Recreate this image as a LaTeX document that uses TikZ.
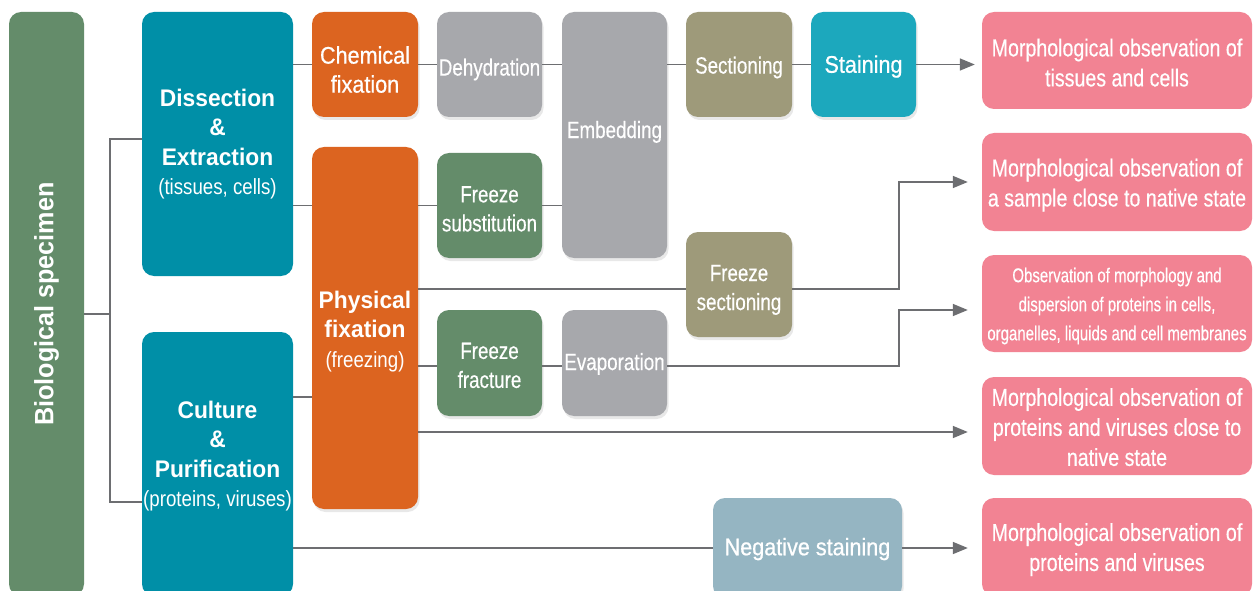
\documentclass[tikz,border=0pt]{standalone}
\usepackage{fontspec}
\setmainfont{Liberation Sans}
\newfontfamily\fR[FakeStretch=0.8,FakeBold=0.4]{Liberation Sans}
\newfontfamily\fM[FakeStretch=0.9,FakeBold=0.7]{Liberation Sans}
\newfontfamily\fP[FakeStretch=0.85]{Liberation Sans}
\newfontfamily\fS[FakeStretch=0.75,FakeBold=0.3]{Liberation Sans}
\newfontfamily\fB[FakeStretch=0.95]{Liberation Sans}
\newcommand\myhs[1]{\rule{0pt}{#1pt}}
\usetikzlibrary{shadows,arrows.meta,calc}
\definecolor{biogreen}{HTML}{648C6A}
\definecolor{tealA}{HTML}{008FA7}
\definecolor{orangeA}{HTML}{DC6420}
\definecolor{grayA}{HTML}{A7A8AC}
\definecolor{khaki}{HTML}{9E9A7A}
\definecolor{tealB}{HTML}{1CA8BD}
\definecolor{negblue}{HTML}{95B5C2}
\definecolor{pinkA}{HTML}{F28393}
\definecolor{linec}{HTML}{6D6E71}
\begin{document}
\begin{tikzpicture}[x=1pt,y=-1pt,
  bx/.style={rounded corners=12pt, inner sep=0pt, align=center, text=white},
  sh/.style={drop shadow={shadow xshift=1.5pt,shadow yshift=-3pt,opacity=0.18}},
  txt/.style={inner sep=0pt, align=center, text=white},
  ln/.style={draw=linec, line width=1.6pt},
  ar/.style={ln, -{Triangle[length=15pt,width=12pt]}, shorten >=14pt},
  bigf/.style={font=\fB\bfseries\fontsize{24}{29.5}\selectfont},
  midf/.style={font=\fM\fontsize{24}{29}\selectfont},
  regf/.style={font=\fR\fontsize{23.5}{29}\selectfont},
  obsf/.style={font=\fR\fontsize{24.5}{30}\selectfont}]
\clip (0,0) rectangle (1258,591);
\fill[white] (0,0) rectangle (1258,591);

% left column
\node[bx, fill=biogreen, minimum width=75pt, minimum height=584pt] (bio) at (46.5,304)
  {\rotatebox{90}{\fB\bfseries\fontsize{26.5}{30}\selectfont Biological specimen}};
\node[bx, fill=tealA, minimum width=151pt, minimum height=264pt, bigf] (diss) at (217.5,144)
  {Dissection\\\&\\Extraction\\{\fP\mdseries\fontsize{22}{29.5}\selectfont (tissues, cells)}};
\node[bx, fill=tealA, minimum width=151pt, minimum height=264pt] (cult) at (217.5,464) {};
\node[txt, bigf] (cultlbl) at (217.5,456)
  {Culture\\\&\\Purification\\{\fP\mdseries\fontsize{22}{29.5}\selectfont (proteins, viruses)}};

% fixation
\node[bx, sh, fill=orangeA, minimum width=106pt, minimum height=105pt, midf] (chem) at (365,64.5) {\myhs{27.5}Chemical\\fixation};
\node[bx, sh, fill=orangeA, minimum width=106pt, minimum height=362pt, bigf] (phys) at (365,328)
  {\myhs{24.5}Physical\\fixation\\{\fP\mdseries\fontsize{22}{29.5}\selectfont (freezing)}};

% middle
\node[bx, sh, fill=grayA, minimum width=105pt, minimum height=105pt, regf] (dehy) at (489.5,64.5) {\myhs{27}Dehydration};
\node[bx, sh, fill=grayA, minimum width=105pt, minimum height=246pt, regf] (emb) at (614.5,135) {Embedding\rule[-11pt]{0pt}{11pt}};
\node[bx, sh, fill=biogreen, minimum width=105pt, minimum height=105pt, regf] (fsub) at (489.5,205.5) {\myhs{23}Freeze\\substitution};
\node[bx, sh, fill=biogreen, minimum width=105pt, minimum height=106pt, regf] (ffrac) at (489.5,363) {\myhs{21}Freeze\\fracture};
\node[bx, sh, fill=grayA, minimum width=105pt, minimum height=106pt, regf] (evap) at (614.5,363) {\myhs{19}Evaporation};
\node[bx, sh, fill=khaki, minimum width=106pt, minimum height=105pt, regf] (sect) at (739,64.5) {\myhs{23}Sectioning};
\node[bx, sh, fill=tealB, minimum width=105pt, minimum height=105pt, midf] (stain) at (863.5,64.5) {\myhs{21.5}Staining};
\node[bx, sh, fill=khaki, minimum width=106pt, minimum height=105pt, regf] (fsec) at (739,284.5) {\myhs{27}Freeze\\sectioning};
\node[bx, sh, fill=negblue, minimum width=189pt, minimum height=100pt, midf] (neg) at (807.5,548) {\myhs{19.5}Negative staining};

% results
\node[bx, fill=pinkA, minimum width=270pt, minimum height=97pt, obsf] (p1) at (1117,60.5)
  {\myhs{22}Morphological observation of\\tissues and cells};
\node[bx, fill=pinkA, minimum width=270pt, minimum height=98pt, obsf] (p2) at (1117,182)
  {\myhs{24}Morphological observation of\\a sample close to native state};
\node[bx, fill=pinkA, minimum width=270pt, minimum height=97pt, font=\fS\fontsize{20}{29}\selectfont] (p3) at (1117,303.5)
  {\myhs{19.6}Observation of morphology and\\dispersion of proteins in cells,\\organelles, liquids and cell membranes};
\node[bx, fill=pinkA, minimum width=270pt, minimum height=98pt, obsf] (p4) at (1117,426)
  {\myhs{20}Morphological observation of\\proteins and viruses close to\\native state};
\node[bx, fill=pinkA, minimum width=270pt, minimum height=98pt, obsf] (p5) at (1117,547)
  {\myhs{23}Morphological observation of\\proteins and viruses};

% bracket
\coordinate (bt) at (110,139);
\coordinate (bm) at (110,314);
\coordinate (bb) at (110,502);
\draw[ln] (diss.west |- bt) -- (bt) -- (bb) -- (cult.west |- bb);
\draw[ln] (bio.east |- bm) -- (bm);

% top row
\draw[ln] (diss.east |- chem.west) -- (chem.west);
\draw[ln] (chem.east) -- (dehy.west);
\draw[ln] (dehy.east) -- (emb.west |- dehy.east);
\draw[ln] (emb.east |- sect.west) -- (sect.west);
\draw[ln] (sect.east) -- (stain.west);
\draw[ar, shorten >=7pt] (stain.east) -- (stain.east -| p1.west);

% freeze substitution row
\draw[ln] (diss.east |- fsub.west) -- (phys.west |- fsub.west);
\draw[ln] (phys.east |- fsub.west) -- (fsub.west);
\draw[ln] (fsub.east) -- (emb.west |- fsub.east);

% freeze sectioning
\coordinate (t1) at (899,0);
\coordinate (fl) at ([yshift=-4.5pt]fsec.west);
\coordinate (fr) at ([yshift=-4.5pt]fsec.east);
\draw[ln] (phys.east |- fl) -- (fl);
\draw[ar] (fr) -- (fr -| t1) -- (t1 |- p2.west) -- (p2.west);

% freeze fracture
\coordinate (gl) at ([yshift=-3pt]ffrac.west);
\coordinate (gr) at ([yshift=-3pt]ffrac.east);
\coordinate (el) at ([yshift=-3pt]evap.west);
\coordinate (er) at ([yshift=-3pt]evap.east);
\coordinate (q3) at ([yshift=-6.5pt]p3.west);
\draw[ln] (phys.east |- gl) -- (gl);
\draw[ln] (gr) -- (el);
\draw[ar] (er) -- (er -| t1) -- (t1 |- q3) -- (q3);

% direct to p4
\coordinate (q4) at ([yshift=-6pt]p4.west);
\draw[ar] (phys.east |- q4) -- (q4);

% culture
\coordinate (cy) at (300,397);
\draw[ln] (cult.east |- cy) -- (phys.west |- cy);
\draw[ln] (cult.east |- neg.west) -- (neg.west);
\draw[ar] (neg.east) -- (neg.east -| p5.west);
\end{tikzpicture}
\end{document}
